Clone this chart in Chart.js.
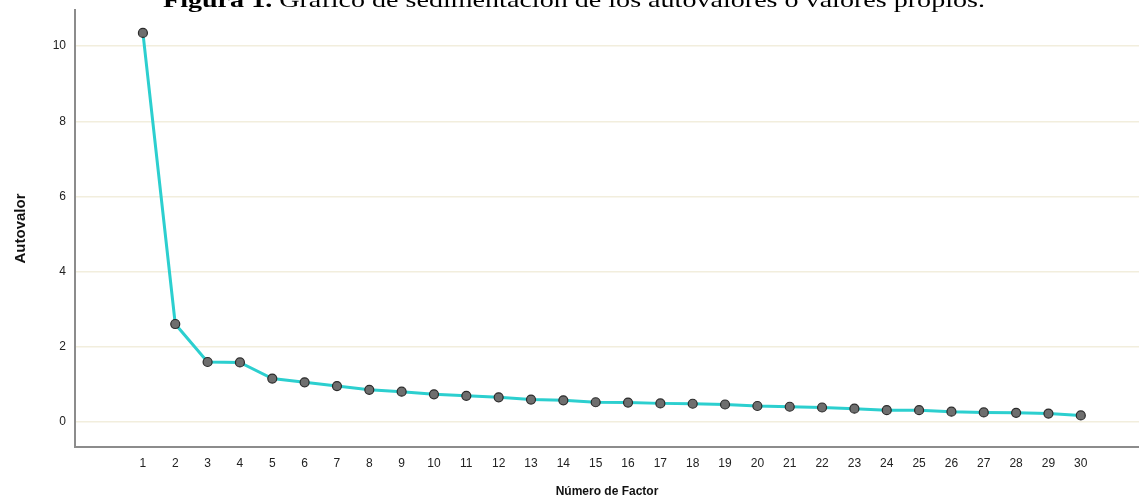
<!DOCTYPE html>
<html lang="es">
<head>
    <meta charset="UTF-8">
    <title>Gráfico de sedimentación</title>
    <script src="https://cdn.jsdelivr.net/npm/chart.js"></script>
    <style>
        html, body { margin: 0; padding: 0; background: #fff; overflow: hidden; }
        #wrap { width: 1139px; height: 499px; position: relative; }
    </style>
</head>
<body>
    <div id="wrap"><canvas id="myChart"></canvas></div>

    <script>
        // datos
        const factores = [1, 2, 3, 4, 5, 6, 7, 8, 9, 10, 11, 12, 13, 14, 15,
                          16, 17, 18, 19, 20, 21, 22, 23, 24, 25, 26, 27, 28, 29, 30];
        const autovalores = [10.35, 2.61, 1.60, 1.59, 1.16, 1.06, 0.96, 0.86, 0.81, 0.74,
                             0.70, 0.66, 0.60, 0.58, 0.53, 0.52, 0.50, 0.49, 0.47, 0.43,
                             0.41, 0.39, 0.36, 0.32, 0.32, 0.28, 0.26, 0.25, 0.23, 0.18];
        const yTicks = [0, 2, 4, 6, 8, 10];

        const tituloBold = 'Figura 1.';
        const tituloResto = ' Gráfico de sedimentación de los autovalores o valores propios.';

        // titulo de la figura (recortado arriba como en el original)
        const figTitle = {
            id: 'figTitle',
            afterDraw(chart) {
                const ctx = chart.ctx;
                ctx.save();
                ctx.textBaseline = 'alphabetic';
                ctx.fillStyle = '#000';
                ctx.font = 'bold 21px "Liberation Serif"';
                const w1 = ctx.measureText(tituloBold).width;
                ctx.font = '21px "Liberation Serif"';
                const w2 = ctx.measureText(tituloResto).width;
                const total = 822;
                const sx = total / (w1 + w2);
                ctx.translate(163, 7);
                ctx.scale(sx, 1);
                ctx.font = 'bold 21px "Liberation Serif"';
                ctx.fillText(tituloBold, 0, 0);
                ctx.font = '21px "Liberation Serif"';
                ctx.fillText(tituloResto, w1, 0);
                ctx.restore();
            }
        };

        const points = factores.map((f, i) => ({ x: f, y: autovalores[i] }));

        new Chart(document.getElementById('myChart').getContext('2d'), {
            type: 'line',
            data: {
                datasets: [{
                    label: 'Autovalor',
                    data: points,
                    borderColor: '#2ccfcf',
                    borderWidth: 3,
                    tension: 0,
                    pointRadius: 4.5,
                    pointBackgroundColor: '#6e6e6e',
                    pointBorderColor: '#2b2b2b',
                    pointBorderWidth: 1.2
                }]
            },
            options: {
                responsive: true,
                maintainAspectRatio: false,
                animation: false,
                layout: { autoPadding: false, padding: { top: 10, right: 0, left: 0, bottom: 0 } },
                plugins: {
                    legend: { display: false },
                    tooltip: { enabled: false }
                },
                scales: {
                    x: {
                        type: 'linear',
                        min: -1.1,
                        max: 31.8,
                        afterBuildTicks: (axis) => {
                            axis.ticks = factores.map(v => ({ value: v }));
                        },
                        afterFit: (axis) => {
                            axis.height = 52;
                            axis.paddingLeft = 0;
                            axis.paddingRight = 0;
                        },
                        grid: { display: false, drawTicks: false },
                        border: { color: '#8c8c8c', width: 2 },
                        ticks: {
                            color: '#222',
                            font: { family: 'Liberation Sans', size: 12 },
                            padding: 9,
                            maxRotation: 0,
                            autoSkip: false
                        },
                        title: {
                            display: true,
                            text: 'Número de Factor',
                            color: '#111',
                            font: { family: 'Liberation Sans', size: 12, weight: 'bold' },
                            padding: { top: 16, bottom: 0 }
                        }
                    },
                    y: {
                        min: -0.66,
                        max: 10.96,
                        afterBuildTicks: (axis) => {
                            axis.ticks = yTicks.map(v => ({ value: v }));
                        },
                        afterFit: (axis) => {
                            axis.width = 75;
                            axis.paddingTop = 0;
                            axis.paddingBottom = 0;
                        },
                        grid: { color: '#f2eedd', lineWidth: 1.5, drawTicks: false },
                        border: { color: '#8c8c8c', width: 2 },
                        ticks: {
                            color: '#222',
                            font: { family: 'Liberation Sans', size: 12 },
                            padding: 9
                        },
                        title: {
                            display: true,
                            text: 'Autovalor',
                            color: '#111',
                            font: { family: 'Liberation Sans', size: 15, weight: 'bold' },
                            padding: { top: 12, bottom: 0 }
                        }
                    }
                }
            },
            plugins: [figTitle]
        });
    </script>
</body>
</html>
